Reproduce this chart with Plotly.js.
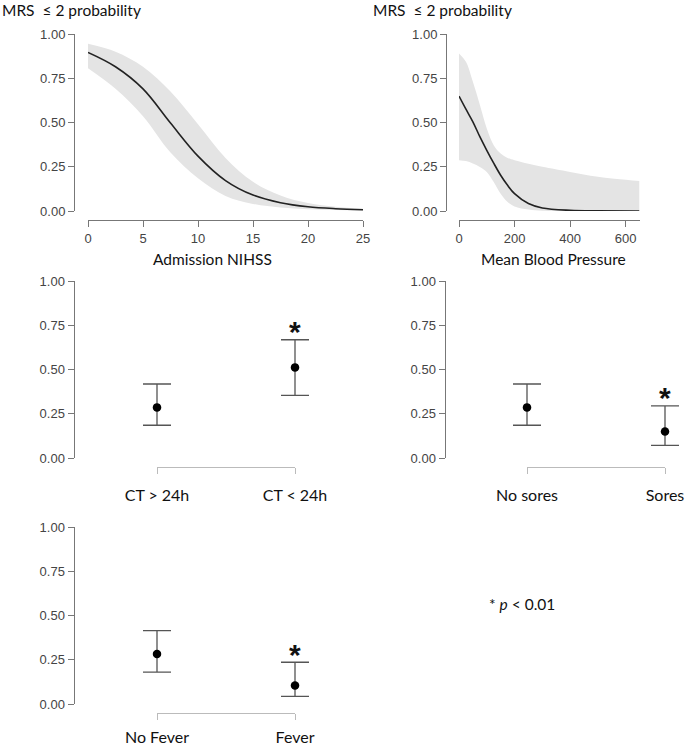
<!DOCTYPE html>
<html>
<head>
<meta charset="utf-8">
<script src="https://cdn.plot.ly/plotly-3.0.1.min.js"></script>
<style>
  html, body { margin: 0; padding: 0; background: #fff; }
  #chart { width: 685px; height: 750px; }
</style>
</head>
<body>
<div id="chart"></div>
<script>
// Admission NIHSS model curve with confidence band
const nihssX = [0, 2.5, 5, 7.5, 10, 12.5, 15, 17.5, 20, 22.5, 25];
const nihssMean = [0.896, 0.815, 0.690, 0.497, 0.310, 0.172, 0.090, 0.047, 0.024, 0.013, 0.007];
const nihssUpper = [0.945, 0.900, 0.815, 0.675, 0.490, 0.300, 0.165, 0.088, 0.045, 0.024, 0.013];
const nihssLower = [0.806, 0.690, 0.535, 0.330, 0.185, 0.085, 0.040, 0.020, 0.010, 0.005, 0.003];

// Mean blood pressure model curve with confidence band
const mbpX = [0, 25, 50, 75, 100, 125, 150, 175, 200, 250, 300, 400, 500, 650];
const mbpMean = [0.649, 0.575, 0.504, 0.420, 0.343, 0.270, 0.202, 0.145, 0.098, 0.042, 0.017, 0.004, 0.001, 0.0003];
const mbpUpper = [0.890, 0.843, 0.730, 0.600, 0.466, 0.372, 0.325, 0.300, 0.287, 0.267, 0.250, 0.221, 0.194, 0.170];
const mbpLower = [0.287, 0.282, 0.268, 0.249, 0.221, 0.164, 0.098, 0.051, 0.026, 0.008, 0.002, 0.0005, 0, 0];

// Categorical predictors: estimate and 95% interval
const ctCats = ['CT > 24h', 'CT < 24h'];
const ctProb = [0.286, 0.512];
const ctLow = [0.185, 0.354];
const ctHigh = [0.418, 0.668];
const ctSig = [false, true];

const soreCats = ['No sores', 'Sores'];
const soreProb = [0.286, 0.150];
const soreLow = [0.185, 0.071];
const soreHigh = [0.418, 0.295];
const soreSig = [false, true];

const feverCats = ['No Fever', 'Fever'];
const feverProb = [0.283, 0.105];
const feverLow = [0.180, 0.043];
const feverHigh = [0.414, 0.236];
const feverSig = [false, true];

const probTicks = [0, 0.25, 0.5, 0.75, 1];
const nihssTicks = [0, 5, 10, 15, 20, 25];
const mbpTicks = [0, 200, 400, 600];

// pixel -> paper helpers
const W = 685, H = 750;
const fx = p => p / W;
const fy = p => 1 - p / H;

const tickFont = { family: 'Liberation Sans, Arial, sans-serif', size: 13, color: '#444' };
const textFont = { family: 'Lato, "Noto Sans", sans-serif', size: 15.5, color: '#111' };

function yAxis(top, bottom, left) {
    return {
        domain: [fy(bottom), fy(top)],
        range: [0, 1],
        anchor: 'free',
        position: fx(left),
        tickvals: probTicks,
        tickformat: '.2f',
        ticks: 'outside', ticklen: 6, tickcolor: '#777',
        showline: true, linecolor: '#777', linewidth: 1,
        showgrid: false, zeroline: false,
        tickfont: tickFont
    };
}

function numAxis(left, right, range, vals, lineY) {
    return {
        domain: [fx(left), fx(right)],
        range: range,
        anchor: 'free',
        position: fy(lineY),
        tickvals: vals,
        ticks: 'outside', ticklen: 6, tickcolor: '#777',
        showline: true, linecolor: '#777', linewidth: 1,
        showgrid: false, zeroline: false,
        tickfont: tickFont
    };
}

// bracket axis: line only between the two categories, carries the labels
function bracketAxis(c0, c1, cats, lineY, standoff) {
    return {
        type: 'category',
        categoryarray: cats,
        domain: [fx(c0), fx(c1)],
        range: [0, 1],
        anchor: 'free',
        position: fy(lineY),
        ticks: 'outside', ticklen: 6, tickcolor: '#bbb',
        showline: true, linecolor: '#bbb', linewidth: 1,
        showgrid: false, zeroline: false,
        ticklabelstandoff: standoff,
        tickfont: { family: textFont.family, size: 16, color: '#111' }
    };
}

// hidden wide axis that holds the points so error caps are not clipped
function pointAxis(c0, c1, cats, right) {
    const left = c0 - (c1 - c0) / 2;
    return {
        type: 'category',
        categoryarray: cats,
        domain: [fx(left), fx(right)],
        range: [-0.5, -0.5 + (right - left) / (c1 - c0)],
        anchor: 'free', position: 0,
        visible: false
    };
}

function bandTraces(x, lower, upper, mean, xa, ya) {
    return [
        { x: x, y: lower, xaxis: xa, yaxis: ya, mode: 'lines',
          line: { width: 0, shape: 'spline' }, hoverinfo: 'skip' },
        { x: x, y: upper, xaxis: xa, yaxis: ya, mode: 'lines', fill: 'tonexty',
          fillcolor: '#e4e4e4', line: { width: 0, shape: 'spline' }, hoverinfo: 'skip' },
        { x: x, y: mean, xaxis: xa, yaxis: ya, mode: 'lines',
          line: { color: '#222', width: 1.6, shape: 'spline' } }
    ];
}

function pointTraces(cats, prob, low, high, xa, xb, ya) {
    return [
        { x: cats, y: prob, xaxis: xb, yaxis: ya, mode: 'none', hoverinfo: 'skip' },
        {
            x: cats, y: prob, xaxis: xa, yaxis: ya,
            mode: 'markers', cliponaxis: false,
            marker: { color: '#000', size: 8.5 },
            error_y: {
                type: 'data', symmetric: false,
                array: high.map((h, i) => h - prob[i]),
                arrayminus: prob.map((p, i) => p - low[i]),
                color: '#555', thickness: 1.3, width: 14
            }
        }
    ];
}

function starNotes(cats, high, sig, xa, ya) {
    return cats.filter((c, i) => sig[i]).map(c => {
        const i = cats.indexOf(c);
        return {
            xref: xa, yref: ya, x: c, y: high[i],
            text: '<b>*</b>', showarrow: false,
            xanchor: 'center', yanchor: 'middle', yshift: 8,
            font: { family: 'Liberation Sans, Arial, sans-serif', size: 30, color: '#111' }
        };
    });
}

const data = [
    ...bandTraces(nihssX, nihssLower, nihssUpper, nihssMean, 'x', 'y'),
    ...bandTraces(mbpX, mbpLower, mbpUpper, mbpMean, 'x2', 'y2'),
    ...pointTraces(ctCats, ctProb, ctLow, ctHigh, 'x6', 'x3', 'y3'),
    ...pointTraces(soreCats, soreProb, soreLow, soreHigh, 'x7', 'x4', 'y4'),
    ...pointTraces(feverCats, feverProb, feverLow, feverHigh, 'x8', 'x5', 'y5')
];

const annotations = [
    { xref: 'paper', yref: 'paper', x: fx(0), y: fy(10), xanchor: 'left', yanchor: 'middle',
      text: 'MRS\u00a0 ≤ 2 probability', showarrow: false, font: textFont },
    { xref: 'paper', yref: 'paper', x: fx(371), y: fy(10), xanchor: 'left', yanchor: 'middle',
      text: 'MRS\u00a0 ≤ 2 probability', showarrow: false, font: textFont },
    { xref: 'paper', yref: 'paper', x: fx(213), y: fy(259), xanchor: 'center', yanchor: 'middle',
      text: 'Admission NIHSS', showarrow: false, font: textFont },
    { xref: 'paper', yref: 'paper', x: fx(553), y: fy(259), xanchor: 'center', yanchor: 'middle',
      text: 'Mean Blood Pressure', showarrow: false, font: textFont },
    { xref: 'paper', yref: 'paper', x: fx(522), y: fy(604), xanchor: 'center', yanchor: 'middle',
      text: '* <i>p</i> &lt; 0.01', showarrow: false, font: textFont },
    ...starNotes(ctCats, ctHigh, ctSig, 'x6', 'y3'),
    ...starNotes(soreCats, soreHigh, soreSig, 'x7', 'y4'),
    ...starNotes(feverCats, feverHigh, feverSig, 'x8', 'y5')
];

const layout = {
    width: W, height: H,
    margin: { l: 0, r: 0, t: 0, b: 0 },
    paper_bgcolor: '#fff', plot_bgcolor: 'rgba(0,0,0,0)',
    showlegend: false,
    xaxis: numAxis(88, 363, [0, 25], nihssTicks, 220),
    yaxis: yAxis(34, 211, 74),
    xaxis2: numAxis(459, 639.5, [0, 650], mbpTicks, 220),
    yaxis2: yAxis(34, 211, 446),
    xaxis3: bracketAxis(157, 295, ctCats, 467, 8),
    yaxis3: yAxis(281, 458, 73.5),
    xaxis4: bracketAxis(527, 665, soreCats, 467, 8),
    yaxis4: yAxis(281, 458, 444.5),
    xaxis5: bracketAxis(157, 295, feverCats, 713, 4),
    yaxis5: yAxis(527, 704, 73.5),
    xaxis6: pointAxis(157, 295, ctCats, 363),
    xaxis7: pointAxis(527, 665, soreCats, 685),
    xaxis8: pointAxis(157, 295, feverCats, 363),
    annotations: annotations
};

Plotly.newPlot('chart', data, layout, { staticPlot: true, displayModeBar: false });
</script>
</body>
</html>
